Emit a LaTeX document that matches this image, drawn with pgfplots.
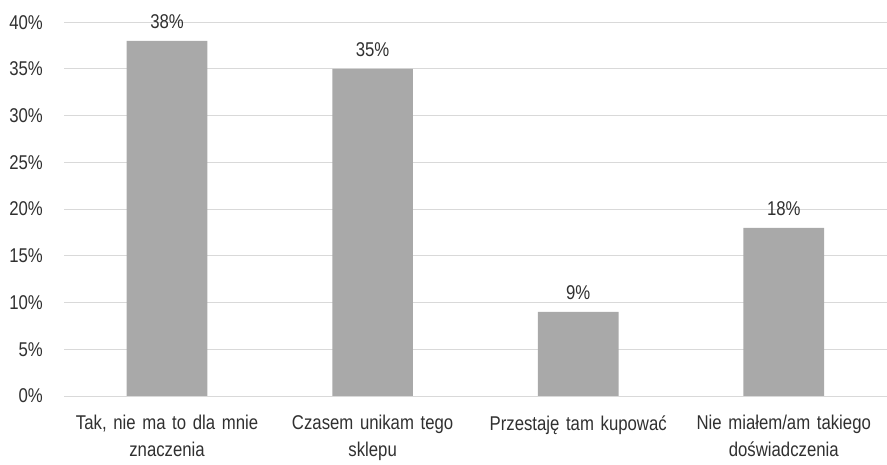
\documentclass[border=0pt]{standalone}
\usepackage{fontspec}
\setmainfont{Liberation Sans}[FakeStretch=0.84]
\usepackage{pgfplots}
\pgfplotsset{compat=1.18}
\definecolor{barcol}{HTML}{A9A9A9}
\definecolor{gridcol}{HTML}{D9D9D9}
\definecolor{txt}{HTML}{303030}

\begin{document}
\begin{tikzpicture}
\begin{axis}[
    scale only axis,
    width=825pt, height=375pt,
    ybar, bar width=81pt,
    xmin=-0.5, xmax=3.5,
    ymin=0, ymax=40,
    xtick=data,
    xticklabels={{Tak, nie ma to dla mnie\\znaczenia},{Czasem unikam tego\\sklepu},{Przestaję tam kupować},{Nie miałem/am takiego\\doświadczenia}},
    xticklabel style={align=center, text width=190pt, font=\fontsize{20}{27}\selectfont, text=txt},
    ytick={0,5,...,40},
    yticklabel={\pgfmathprintnumber{\tick}\%},
    yticklabel style={font=\fontsize{20}{24}\selectfont, text=txt},
    /pgf/number format/assume math mode=true,
    ymajorgrids,
    grid style={gridcol, line width=0.9pt},
    axis line style={draw=none},
    major tick length=0pt,
    xtick style={draw=none}, ytick style={draw=none},
    yticklabel shift=18pt,
    xticklabel shift=16pt,
    nodes near coords={\pgfmathprintnumber{\pgfplotspointmeta}\%},
    every node near coord/.append style={font=\fontsize{20}{24}\selectfont, text=txt, yshift=9pt},
]
\addplot[fill=barcol, draw=none] coordinates {(0,38) (1,35) (2,9) (3,18)};
\end{axis}
% white margin above and to the left, as in the reference
\path ([shift={(-6pt,11pt)}]current bounding box.north west) rectangle (0,0);
\end{tikzpicture}
\end{document}
